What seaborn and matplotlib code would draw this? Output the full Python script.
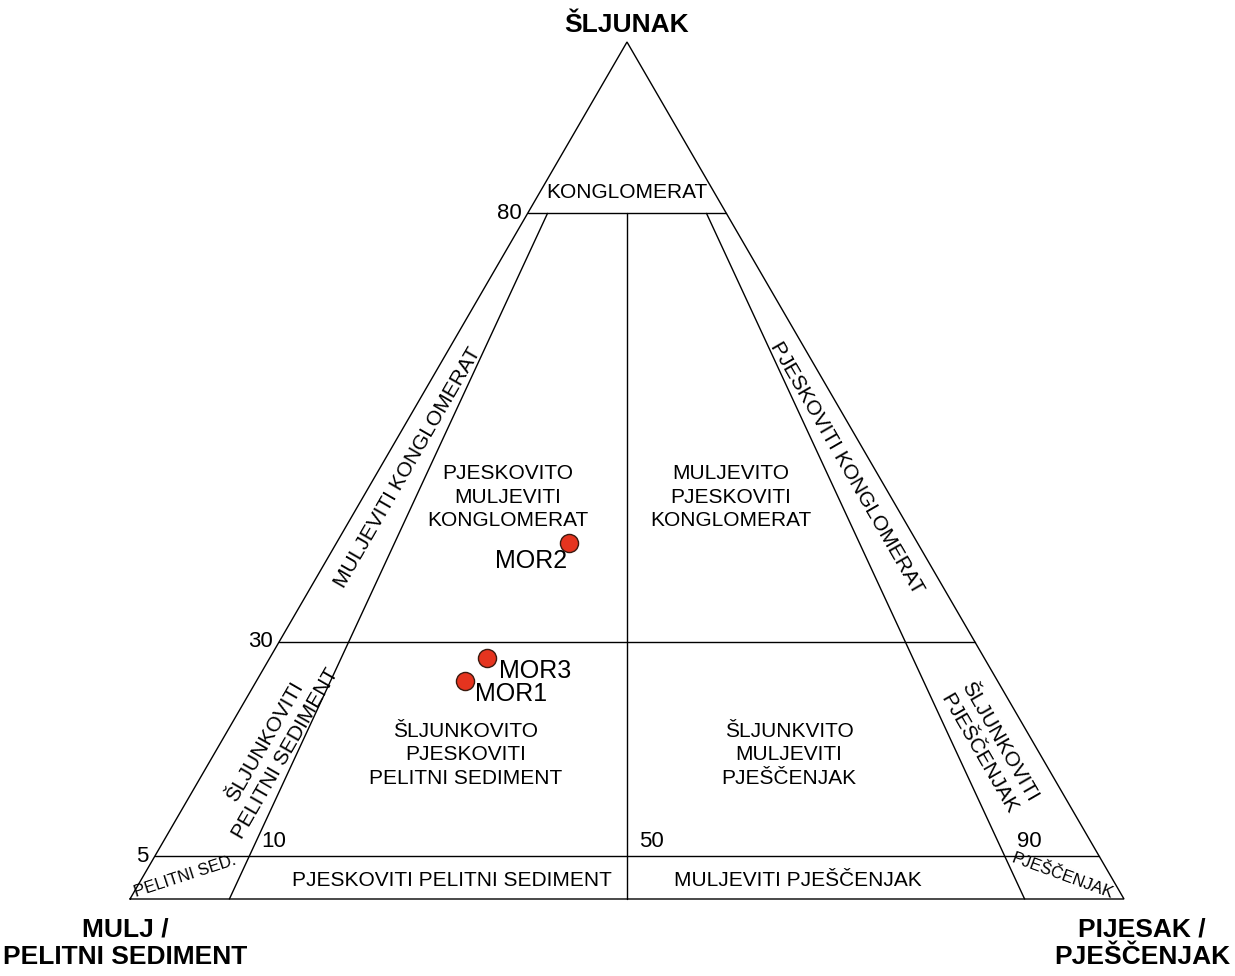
import numpy as np
import pandas as pd
import matplotlib
matplotlib.use("Agg")
import matplotlib.pyplot as plt
import seaborn as sns

# ---- data ----
samples = ["MOR1", "MOR2", "MOR3"]
gravel = [0.254, 0.415, 0.281]
sand = [0.210, 0.234, 0.219]
mud = [0.536, 0.351, 0.500]

gravel_levels = [0.05, 0.30, 0.80]
gravel_level_labels = ["5", "30", "80"]
ratio_lines = [0.10, 0.50, 0.90]          # sand/(sand+mud)
ratio_labels = ["10", "50", "90"]

H = np.sqrt(3) / 2


def tern(g, s):
    """gravel, sand fractions -> cartesian"""
    return s + g / 2.0, g * H


# pixel helper for label placement (reference geometry)
X0, X1, YB, YT = 130.0, 1124.0, 899.0, 42.0


def px(xp, yp):
    return (xp - X0) / (X1 - X0), (YB - yp) / (YB - YT) * H


sns.set_theme(style="white")
plt.rcParams["font.family"] = ["Liberation Sans", "DejaVu Sans"]
plt.rcParams["text.color"] = "black"

fig = plt.figure(figsize=(12.35, 9.76), dpi=100)
ax = fig.add_axes([0, 0, 1, 1])
xl, _ = px(0, 0)
xr, _ = px(1235, 0)
_, yb = px(0, 976)
_, yt = px(0, 0)
ax.set_xlim(xl, xr)
ax.set_ylim(yb, yt)
ax.axis("off")

lw = 1.0
col = "black"

# outer triangle
tri = [tern(0, 0), tern(0, 1), tern(1, 0), tern(0, 0)]
ax.plot([p[0] for p in tri], [p[1] for p in tri], color=col, lw=lw, solid_joinstyle="miter")

# gravel level lines
for g in gravel_levels:
    a = tern(g, 0)
    b = tern(g, 1 - g)
    ax.plot([a[0], b[0]], [a[1], b[1]], color=col, lw=lw)

# ratio lines from base to 80% gravel
gmax = gravel_levels[-1]
for r in ratio_lines:
    a = tern(0, r)
    b = tern(gmax, (1 - gmax) * r)
    ax.plot([a[0], b[0]], [a[1], b[1]], color=col, lw=lw)

# numeric labels
fs_num = 16
for g, lab in zip(gravel_levels, gravel_level_labels):
    x, y = tern(g, 0)
    ax.text(x - 0.006, y, lab, ha="right", va="center", fontsize=fs_num)
for r, lab in zip(ratio_lines, ratio_labels):
    x, y = tern(0.05, 0.95 * r)
    ax.text(x + 0.012, y + 0.004, lab, ha="left", va="bottom", fontsize=fs_num)

# samples
df = pd.DataFrame({"sample": samples, "gravel": gravel, "sand": sand, "mud": mud})
df["x"] = df["sand"] + df["gravel"] / 2
df["y"] = df["gravel"] * H
sns.scatterplot(data=df, x="x", y="y", ax=ax, s=170, color="#e5341f",
                edgecolor="#3a1a10", linewidth=1.0, zorder=5, legend=False)
offsets = {"MOR1": (0.046, -0.013), "MOR2": (-0.038, -0.018), "MOR3": (0.048, -0.013)}
for _, row in df.iterrows():
    dx, dy = offsets[row["sample"]]
    ax.text(row["x"] + dx, row["y"] + dy, row["sample"], ha="center", va="center",
            fontsize=18)

# region labels
fs = 15
reg = [
    ((627, 193), "KONGLOMERAT", 0),
    ((508, 497), "PJESKOVITO\nMULJEVITI\nKONGLOMERAT", 0),
    ((731, 497), "MULJEVITO\nPJESKOVITI\nKONGLOMERAT", 0),
    ((466, 755), "ŠLJUNKOVITO\nPJESKOVITI\nPELITNI SEDIMENT", 0),
    ((789, 755), "ŠLJUNKVITO\nMULJEVITI\nPJEŠČENJAK", 0),
    ((452, 880), "PJESKOVITI PELITNI SEDIMENT", 0),
    ((798, 880), "MULJEVITI PJEŠČENJAK", 0),
    ((408, 468), "MULJEVITI KONGLOMERAT", 60),
    ((847, 468), "PJESKOVITI KONGLOMERAT", -60),
    ((275, 748), "ŠLJUNKOVITI\nPELITNI SEDIMENT", 60),
    ((989, 748), "ŠLJUNKOVITI\nPJEŠČENJAK", -60),
]
for (xp, yp), t, rot in reg:
    x, y = px(xp, yp)
    ax.text(x, y, t, ha="center", va="center", rotation=rot, fontsize=fs,
            linespacing=1.3, rotation_mode="anchor")

x, y = px(185, 876)
ax.text(x, y, "PELITNI SED.", ha="center", va="center", rotation=18, fontsize=12,
        rotation_mode="anchor")
x, y = px(1062, 876)
ax.text(x, y, "PJEŠČENJAK", ha="center", va="center", rotation=-20, fontsize=12,
        rotation_mode="anchor")

# corner labels
fsb = 19
x, y = px(627, 25)
ax.text(x, y, "ŠLJUNAK", ha="center", va="center", fontsize=fsb, fontweight="bold")
x, y = px(125, 943)
ax.text(x, y, "MULJ /\nPELITNI SEDIMENT", ha="center", va="center", fontsize=fsb,
        fontweight="bold", linespacing=1.2)
x, y = px(1142, 943)
ax.text(x, y, "PIJESAK /\nPJEŠČENJAK", ha="center", va="center", fontsize=fsb,
        fontweight="bold", linespacing=1.2)

fig.savefig("out.png", dpi=100, facecolor="white")
